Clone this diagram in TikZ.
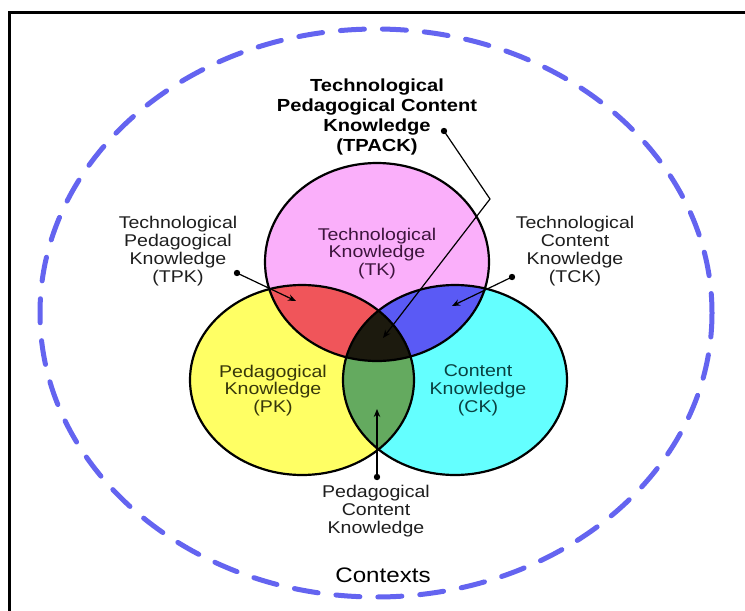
\documentclass[tikz,border=0pt]{standalone}
\usepackage{fontspec}
\setmainfont{Liberation Sans}[FakeStretch=1.15]
\usetikzlibrary{arrows.meta}
\definecolor{tkfill}{RGB}{250,175,250}
\definecolor{pkfill}{RGB}{255,255,100}
\definecolor{ckfill}{RGB}{100,255,255}
\definecolor{tpkfill}{RGB}{240,85,90}
\definecolor{tckfill}{RGB}{90,90,245}
\definecolor{pckfill}{RGB}{100,170,95}
\definecolor{tpackfill}{RGB}{28,26,14}
\definecolor{ctxblue}{RGB}{100,100,240}
\definecolor{txt}{RGB}{30,30,30}
\definecolor{tktxt}{RGB}{60,20,60}
\definecolor{pktxt}{RGB}{55,55,10}
\definecolor{cktxt}{RGB}{10,65,65}
\begin{document}
\begin{tikzpicture}[x=1pt,y=-1pt,
  lbl/.style={align=center,font=\fontsize{17}{17.8}\selectfont,text=txt,inner sep=0pt},
  boldlbl/.style={align=center,font=\fontsize{17.5}{20}\selectfont\bfseries,text=black,inner sep=0pt},
  outline/.style={draw=black,line width=2.2pt},
  conn/.style={draw=black,line width=1.2pt},
  tipped/.style={-{Stealth[length=8pt,width=6.5pt]}},
  dotmark/.style={fill=black},
  ctxline/.style={draw=ctxblue,line width=5pt,dash pattern=on 24pt off 18pt,line cap=round}]
\useasboundingbox (0,0) rectangle (745,611);
\fill[white] (0,0) rectangle (745,611);
% frame
\draw[line width=3pt] (745,12) -- (9,12) -- (9,611);
% contexts ellipse
\draw[ctxline] (376,313) ellipse [x radius=336, y radius=284];
% circles
\def\pathTK{(377,262) ellipse [x radius=112, y radius=99]}
\def\pathPK{(302,380) ellipse [x radius=112, y radius=95]}
\def\pathCK{(455,380) ellipse [x radius=112, y radius=95]}
\fill[tkfill] \pathTK;
\fill[pkfill] \pathPK;
\fill[ckfill] \pathCK;
\begin{scope}
  \clip \pathTK;
  \fill[tpkfill] \pathPK;
  \fill[tckfill] \pathCK;
\end{scope}
\begin{scope}
  \clip \pathPK;
  \fill[pckfill] \pathCK;
\end{scope}
\begin{scope}
  \clip \pathTK;
  \clip \pathPK;
  \fill[tpackfill] \pathCK;
\end{scope}
\draw[outline] \pathTK;
\draw[outline] \pathPK;
\draw[outline] \pathCK;
% labels
\node[boldlbl] (tpack) at (377,117) {Technological\\Pedagogical Content\\Knowledge\\(TPACK)};
\node[lbl] (tpk) at (178,251) {Technological\\Pedagogical\\Knowledge\\(TPK)};
\node[lbl] (tck) at (575,251) {Technological\\Content\\Knowledge\\(TCK)};
\node[lbl,text=tktxt] (tk) at (377,253.5) {Technological\\Knowledge\\(TK)};
\node[lbl,text=pktxt] (pk) at (273,390.5) {Pedagogical\\Knowledge\\(PK)};
\node[lbl,text=cktxt] (ck) at (478,390.5) {Content\\Knowledge\\(CK)};
\node[lbl] (pck) at (376,511) {Pedagogical\\Content\\Knowledge};
\node[lbl,font=\fontsize{21}{22}\selectfont,text=black] (ctx) at (383,575) {Contexts};
% connectors
\coordinate (tpackdot) at (444,131);
\coordinate (tpackbend) at (490,199);
\coordinate (tpacktip) at (383,338);
\draw[conn,tipped] (tpackdot) -- (tpackbend) -- (tpacktip);
\fill[dotmark] (tpackdot) circle (3.2);
\coordinate (tpkdot) at (237,273);
\coordinate (tpktip) at (296,301);
\draw[conn,tipped] (tpkdot) -- (tpktip);
\fill[dotmark] (tpkdot) circle (3.2);
\coordinate (tckdot) at (512,277);
\coordinate (tcktip) at (452,306);
\draw[conn,tipped] (tckdot) -- (tcktip);
\fill[dotmark] (tckdot) circle (3.2);
\coordinate (pckdot) at (377,477);
\coordinate (pcktip) at (377,409);
\draw[conn,tipped] (pckdot) -- (pcktip);
\fill[dotmark] (pckdot) circle (3.2);
\end{tikzpicture}
\end{document}
